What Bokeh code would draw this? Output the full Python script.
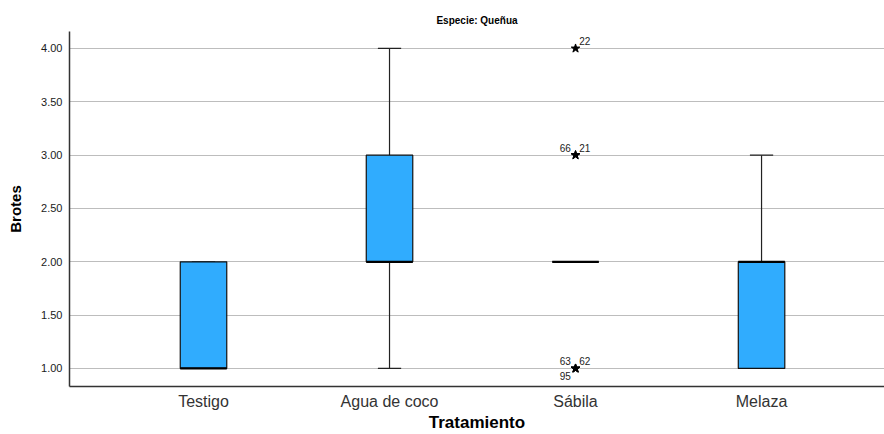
from bokeh.plotting import figure
from bokeh.models import ColumnDataSource, FixedTicker, Range1d, NumeralTickFormatter, Title
from bokeh.embed import file_html
from bokeh.resources import INLINE
from bokeh.core.properties import value

categories = ["Testigo", "Agua de coco", "Sábila", "Melaza"]
q1 = [1.0, 2.0, 2.0, 1.0]
median = [1.0, 2.0, 2.0, 2.0]
q3 = [2.0, 3.0, 2.0, 2.0]
whisker_low = [1.0, 1.0, 2.0, 1.0]
whisker_high = [2.0, 4.0, 2.0, 3.0]

outlier_cat = ["Sábila", "Sábila", "Sábila", "Sábila", "Sábila", "Sábila"]
outlier_val = [4.0, 3.0, 3.0, 1.0, 1.0, 1.0]
outlier_label = ["22", "66", "21", "63", "62", "95"]
outlier_side = ["ur", "ul", "ur", "ul", "ur", "ll"]

y_ticks = [1.0, 1.5, 2.0, 2.5, 3.0, 3.5, 4.0]

FONT = "Liberation Sans"
BOX_W = 0.25
CAP_W = 0.125

xpos = list(range(len(categories)))
idx = {c: i for i, c in enumerate(categories)}

p = figure(width=884, height=434, output_backend="svg", toolbar_location=None,
           x_range=Range1d(-0.7204, 3.661), y_range=Range1d(0.831, 4.159),
           min_border_left=69, min_border_right=0, min_border_top=31, min_border_bottom=48)
p.background_fill_color = "white"
p.border_fill_color = "white"
p.outline_line_color = None

p.title = Title(text="Especie: Queñua", align="center", text_font=FONT,
                text_font_size="10px", text_font_style="bold", text_color="#000000",
                standoff=12)

# grid
p.xgrid.grid_line_color = None
p.ygrid.grid_line_color = "#bdbdbd"
p.ygrid.grid_line_width = 1
p.yaxis.ticker = FixedTicker(ticks=y_ticks)
p.xaxis.ticker = FixedTicker(ticks=xpos)
p.xaxis.major_label_overrides = {i: c for i, c in enumerate(categories)}
p.yaxis.formatter = NumeralTickFormatter(format="0.00")

for ax in (p.xaxis[0], p.yaxis[0]):
    ax.axis_line_color = "#333333"
    ax.axis_line_width = 1.5
    ax.major_tick_line_color = None
    ax.minor_tick_line_color = None
    ax.major_label_text_font = FONT
    ax.axis_label_text_font = FONT
    ax.axis_label_text_font_style = "bold"
    ax.axis_label_text_color = "#000000"
    ax.major_label_text_line_height = 1.0
    ax.axis_label_text_line_height = 1.0

p.yaxis.major_label_text_font_size = "11px"
p.yaxis.major_label_text_color = "#1a1a1a"
p.yaxis.major_label_standoff = 1
p.yaxis.axis_label = "Brotes"
p.yaxis.axis_label_text_font_size = "15px"
p.yaxis.axis_label_standoff = 14

p.xaxis.major_label_text_font_size = "16px"
p.xaxis.major_label_text_color = "#333333"
p.xaxis.major_label_standoff = 0
p.xaxis.axis_label = "Tratamiento"
p.xaxis.axis_label_text_font_size = "17px"
p.xaxis.axis_label_standoff = 0

# whiskers
src = ColumnDataSource(dict(x=xpos, q1=q1, med=median, q3=q3, lo=whisker_low, hi=whisker_high,
                            cl=[x - CAP_W / 2 for x in xpos], cr=[x + CAP_W / 2 for x in xpos],
                            ml=[x - BOX_W / 2 for x in xpos], mr=[x + BOX_W / 2 for x in xpos]))
p.segment(x0="x", y0="q3", x1="x", y1="hi", source=src, line_color="#222222", line_width=1.2)
p.segment(x0="x", y0="lo", x1="x", y1="q1", source=src, line_color="#222222", line_width=1.2)
p.segment(x0="cl", y0="hi", x1="cr", y1="hi", source=src, line_color="#222222", line_width=1.2)
p.segment(x0="cl", y0="lo", x1="cr", y1="lo", source=src, line_color="#222222", line_width=1.2)

# boxes
p.vbar(x="x", bottom="q1", top="q3", width=BOX_W, source=src,
       fill_color="#30acfe", line_color="#111111", line_width=1.2)
# medians
p.segment(x0="ml", y0="med", x1="mr", y1="med", source=src, line_color="#000000", line_width=2.2)

# outliers
ox = [idx[c] for c in outlier_cat]
p.scatter(x=ox, y=outlier_val, marker="star", size=9, fill_color="#000000", line_color="#000000")

dx_map = {"ur": 0.02, "ul": -0.025, "ll": -0.025}
dy_map = {"ur": 0.03, "ul": 0.03, "ll": -0.03}
align_map = {"ur": "left", "ul": "right", "ll": "right"}
base_map = {"ur": "bottom", "ul": "bottom", "ll": "top"}
for side in ("ur", "ul", "ll"):
    xs = [ox[i] + dx_map[side] for i in range(len(ox)) if outlier_side[i] == side]
    ys = [outlier_val[i] + dy_map[side] for i in range(len(ox)) if outlier_side[i] == side]
    ts = [outlier_label[i] for i in range(len(ox)) if outlier_side[i] == side]
    p.text(x=xs, y=ys, text=ts, text_font=value(FONT), text_font_size="10px",
           text_color="#222222", text_align=align_map[side], text_baseline=base_map[side])

open("out.html", "w").write(file_html(p, INLINE))
